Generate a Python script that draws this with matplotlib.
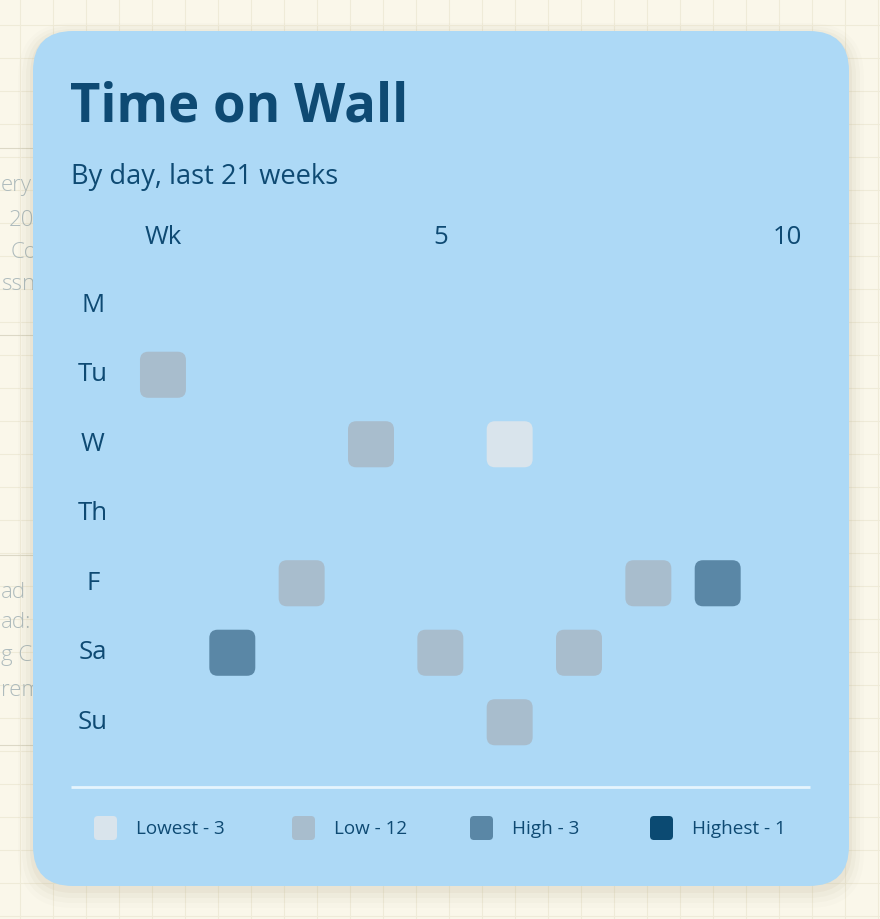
import matplotlib
matplotlib.use("Agg")
import matplotlib.pyplot as plt
from matplotlib.patches import FancyBboxPatch
import numpy as np

# ---------------- data ----------------
days = ["M", "Tu", "W", "Th", "F", "Sa", "Su"]
weeks = list(range(1, 11))
week_ticks = [1, 5, 10]
week_tick_labels = ["Wk", "5", "10"]
# 0 = none, 1 = lowest, 2 = low, 3 = high, 4 = highest
levels_M  = [0, 0, 0, 0, 0, 0, 0, 0, 0, 0]
levels_Tu = [2, 0, 0, 0, 0, 0, 0, 0, 0, 0]
levels_W  = [0, 0, 0, 2, 0, 1, 0, 0, 0, 0]
levels_Th = [0, 0, 0, 0, 0, 0, 0, 0, 0, 0]
levels_F  = [0, 0, 2, 0, 0, 0, 0, 2, 3, 0]
levels_Sa = [0, 3, 0, 0, 2, 0, 2, 0, 0, 0]
levels_Su = [0, 0, 0, 0, 0, 2, 0, 0, 0, 0]
legend_names = ["Lowest", "Low", "High", "Highest"]
legend_counts = [3, 12, 3, 1]
title = "Time on Wall"
subtitle = "By day, last 21 weeks"
bg_fragments = ["ery", "20", "Co", "ssn", "ad", "ad:", "g C", "rem"]

level_colors = {1: "#D9E4EC", 2: "#A8BDCD", 3: "#5A87A6", 4: "#0B4A72"}
text_color = "#0E4A73"
card_color = "#ADD9F6"
page_color = "#FAF7EA"
FONT = ["Open Sans", "DejaVu Sans"]

grid = np.array([levels_M, levels_Tu, levels_W, levels_Th, levels_F, levels_Sa, levels_Su])

W, H = 880, 919
fig = plt.figure(figsize=(W / 100, H / 100), dpi=100)
fig.patch.set_facecolor(page_color)

bg = fig.add_axes([0, 0, 1, 1])
bg.set_xlim(0, W)
bg.set_ylim(H, 0)
bg.axis("off")

# faint page grid
for x in np.arange(20, W, 33):
    bg.plot([x, x], [0, H], color="#EFEBD8", lw=0.8, zorder=0)
for y in np.arange(25, H, 33):
    bg.plot([0, W], [y, y], color="#EFEBD8", lw=0.8, zorder=0)

# partial background card on left
for (ya, yb) in [(148, 335), (555, 745)]:
    bg.plot([0, 40], [ya, ya], color="#DCD8C6", lw=0.8, zorder=1)
    bg.plot([0, 40], [yb, yb], color="#DCD8C6", lw=0.8, zorder=1)
frag_pos = [(1, 186), (9, 220), (11, 252), (1, 284), (1, 592), (1, 622), (1, 655), (1, 690)]
for txt, (fx, fy) in zip(bg_fragments, frag_pos):
    bg.text(fx, fy, txt, ha="left", va="center", fontsize=16, color="#AEBBBD",
            family=FONT, fontweight="light", zorder=1)

# card shadow
for i, a in enumerate([0.05, 0.04, 0.03, 0.02]):
    g = 3 + i * 4
    sh = FancyBboxPatch((33 - g, 31 - g + 4 + i), 816 + 2 * g, 855 + 2 * g,
                        boxstyle="round,pad=0,rounding_size=%d" % (40 + g),
                        facecolor="#8A7F55", edgecolor="none", alpha=a, zorder=2)
    bg.add_patch(sh)

card = FancyBboxPatch((33, 31), 816, 855, boxstyle="round,pad=0,rounding_size=40",
                      facecolor=card_color, edgecolor="none", zorder=3)
bg.add_patch(card)

bg.text(70, 107, title, fontsize=38, fontweight="bold", color=text_color,
        family=FONT, ha="left", va="center", zorder=5)
bg.text(71, 177, subtitle, fontsize=19.6, color=text_color, family=FONT,
        ha="left", va="center", zorder=5)

# separator
bg.plot([71, 810], [787, 787], color="#E6F5FD", lw=2, zorder=5, solid_capstyle="butt")

# ---------------- heatmap axes ----------------
x0, x1 = 128.3, 821.7
y0, y1 = 270.5, 757.0
ax = fig.add_axes([x0 / W, 1 - y1 / H, (x1 - x0) / W, (y1 - y0) / H])
ax.set_xlim(0.5, 10.5)
ax.set_ylim(7.5, 0.5)
ax.axis("off")
ax.patch.set_alpha(0)

cs = 0.663
for r, day in enumerate(days):
    for c, wk in enumerate(weeks):
        lv = grid[r, c]
        if lv == 0:
            continue
        p = FancyBboxPatch((wk - cs / 2, (r + 1) - cs / 2), cs, cs,
                           boxstyle="round,pad=0,rounding_size=0.12",
                           facecolor=level_colors[lv], edgecolor="none")
        ax.add_patch(p)

for wk, lab in zip(week_ticks, week_tick_labels):
    ax.text(wk, 0.02, lab, ha="center", va="center", fontsize=18.5,
            color=text_color, family=FONT, clip_on=False)
for r, day in enumerate(days):
    ax.text(-0.01, r + 1, day, ha="center", va="center", fontsize=18.5,
            color=text_color, family=FONT, clip_on=False)

# ---------------- legend ----------------
leg_x = [94, 292, 470, 650]
for i, (name, cnt) in enumerate(zip(legend_names, legend_counts)):
    sq = FancyBboxPatch((leg_x[i], 816), 23, 24, boxstyle="round,pad=0,rounding_size=4",
                        facecolor=level_colors[i + 1], edgecolor="none", zorder=5)
    bg.add_patch(sq)
    bg.text(leg_x[i] + 42, 829, f"{name} - {cnt}", fontsize=13.6, color=text_color,
            family=FONT, ha="left", va="center", zorder=5)

fig.savefig("out.png", dpi=100, facecolor=page_color)
